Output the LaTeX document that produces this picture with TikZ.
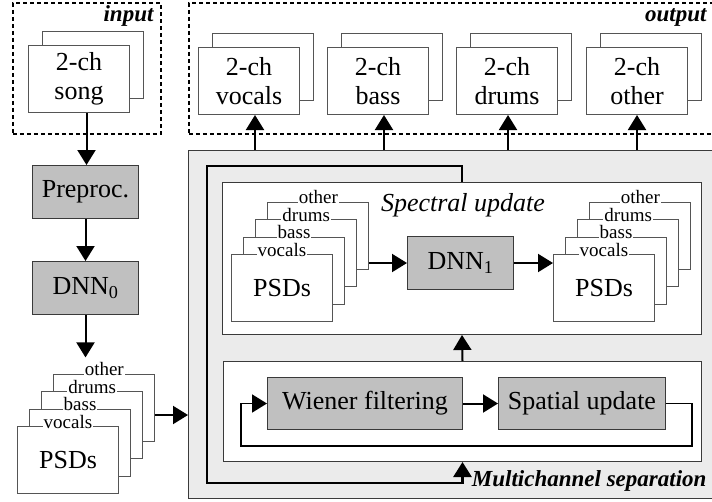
\documentclass[tikz,border=0pt]{standalone}
\usepackage{fontspec}
\setmainfont{Liberation Serif}
\usetikzlibrary{arrows.meta,calc}
\definecolor{panelfill}{HTML}{EBEBEB}
\definecolor{blockfill}{HTML}{C0C0C0}
\definecolor{edge}{HTML}{3A3A3A}
\definecolor{sheet}{HTML}{555555}

\tikzset{
  every node/.style={font=\fontsize{26}{29.5}\selectfont},
  sheetbox/.style={draw=sheet, line width=1pt, fill=white, minimum width=101pt,
    minimum height=67pt, inner sep=0pt, align=center, anchor=north west},
  blockbox/.style={draw=edge, line width=1pt, fill=blockfill, inner sep=0pt,
    anchor=north west},
  areabox/.style={draw=edge, line width=1pt, fill=white, inner sep=0pt, anchor=north west},
  tagtext/.style={font=\fontsize{19}{20}\selectfont, fill=white, inner sep=1pt, anchor=mid},
  bigtip/.tip={Triangle[length=15pt,width=18pt]},
  arr/.style={line width=2pt, -bigtip},
  looparr/.style={line width=2.7pt, -bigtip},
  frame/.style={draw=black, line width=1.8pt, dash pattern=on 4pt off 3pt,
    inner sep=0pt, anchor=north west},
  frametitle/.style={font=\fontsize{23}{25}\selectfont\bfseries\itshape},
}

% stack of four PSD sheets; #1 name prefix, (#2,#3) top-left of the front sheet
\newcommand\psdstack[3]{%
  \foreach \lab/\k in {other/3,drums/2,bass/1} {
    \node[sheetbox] (#1\lab) at ({#2+12.1*\k},{#3-17.5*\k}) {};
    \node[tagtext] (#1\lab-tag) at (#1\lab.north) {\lab};
  }
  \node[sheetbox] (#1vocals) at (#2,#3) {PSDs};
  \node[tagtext] (#1vocals-tag) at (#1vocals.north) {vocals};
}

% two-channel signal drawn as two sheets; #1 name, (#2,#3) top-left, #4 text
\newcommand\twochsheet[4]{%
  \node[sheetbox] (#1-back) at ({#2+14},{#3-14}) {};
  \node[sheetbox] (#1) at (#2,#3) {#4};
}

\begin{document}
\begin{tikzpicture}[x=1pt,y=-1pt]
  \useasboundingbox (0,0) rectangle (712,501);

  % input / output frames
  \node[frame, minimum width=148pt, minimum height=131pt] (inframe) at (12,2) {};
  \node[frametitle, anchor=base east] (intitle) at (157,21) {input};
  \node[frame, minimum width=540pt, minimum height=131pt] (outframe) at (188,2) {};
  \node[frametitle, anchor=base east] (outtitle) at (710,21) {output};

  % multichannel separation panel
  \node[draw=edge, fill=panelfill, line width=1pt, inner sep=0pt, anchor=north west,
        minimum width=540pt, minimum height=348pt] (panel) at (188,150) {};
  \node[frametitle, anchor=base east] (paneltitle) at (710,486) {Multichannel separation};

  % input song
  \twochsheet{song}{28}{45}{2-ch\\song}

  % outputs
  \twochsheet{ovocals}{198}{47}{2-ch\\vocals}
  \twochsheet{obass}{327}{47}{2-ch\\bass}
  \twochsheet{odrums}{456}{47}{2-ch\\drums}
  \twochsheet{oother}{586}{47}{2-ch\\other}

  % front-end chain
  \node[blockbox, minimum width=106pt, minimum height=53pt] (pre) at (32,165) {Preproc.};
  \node[blockbox, minimum width=106pt, minimum height=53pt] (dnn0) at (32,261) {DNN\textsubscript{0}};
  \psdstack{L}{17}{426}

  % spectral update
  \node[areabox, minimum width=479pt, minimum height=152pt] (spec) at (222,182) {};
  \node[anchor=base, font=\fontsize{26}{29}\selectfont\itshape] (spectitle) at (463,211) {Spectral update};
  \psdstack{S}{231}{254}
  \node[blockbox, minimum width=106pt, minimum height=53pt] (dnn1) at (407,236) {DNN\textsubscript{1}};
  \psdstack{R}{553}{254}

  % spatial loop
  \node[areabox, minimum width=478pt, minimum height=100pt] (low) at (223,361) {};
  \node[blockbox, minimum width=195pt, minimum height=52pt] (wien) at (267,377) {Wiener filtering};
  \node[blockbox, minimum width=167pt, minimum height=52pt] (spat) at (498,377) {Spatial update};

  % connectors
  \draw[arr] ([xshift=7.5pt]song.south) coordinate (s0) -- (s0 |- pre.north);
  \draw[arr] (pre.south) -- (dnn0.north);
  \draw[arr, shorten >=4pt] (dnn0.south) -- (dnn0.south |- Lother-tag.north);
  \draw[arr] ([yshift=-7.5pt]Lother.east) coordinate (l0) -- (l0 -| panel.west);

  \foreach \o/\xa in {ovocals/255, obass/384, odrums/508, oother/637} {
    \coordinate (\o-foot) at (\xa,150);
    \draw[arr] (\o-foot) -- (\o-foot |- \o.south);
  }

  \draw[arr] (Sother.east |- dnn1.west) -- (dnn1.west);
  \draw[arr] (dnn1.east) -- (dnn1.east -| Rvocals.west);
  \draw[arr] (low.north) -- (spec.south);

  \draw[arr] (wien.east) -- (spat.west);
  \coordinate (lr) at (692,446);
  \coordinate (ll) at (241,446);
  \draw[arr, line width=1.8pt] (spat.east) -| (lr) -- (ll) |- (wien.west);

  \coordinate (kb) at (207,483);
  \draw[looparr] (spec.north) -- ++(0,-16) -| (kb) -| (low.south);
\end{tikzpicture}
\end{document}
